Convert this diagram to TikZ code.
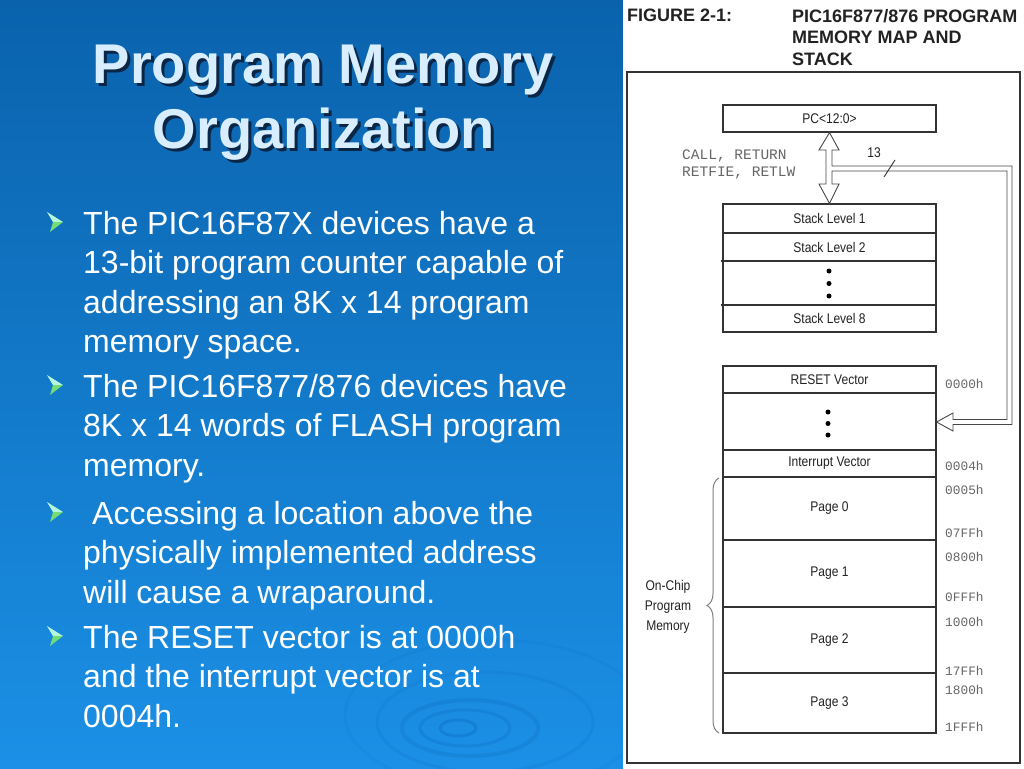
\documentclass[tikz,border=0pt]{standalone}
\usepackage{fontspec}
\setmainfont{Liberation Sans}
\newfontfamily\narrowfont[FakeStretch=0.86]{Liberation Sans}
\newfontfamily\addrfont{Liberation Mono}
\usetikzlibrary{decorations.pathreplacing,shapes.geometric}
\definecolor{bgtop}{HTML}{0A62AC}
\definecolor{bgbot}{HTML}{1B90E6}
\definecolor{titlefill}{HTML}{D8EEFF}
\definecolor{shadowc}{HTML}{0B2545}
\definecolor{linec}{HTML}{333333}
\definecolor{textc}{HTML}{222222}
\definecolor{addrc}{HTML}{666666}
\definecolor{bulletup}{HTML}{B4F7DC}
\definecolor{bulletdown}{HTML}{74DC74}
\definecolor{ripple}{HTML}{0B6CC0}
\begin{document}
\begin{tikzpicture}[x=1pt,y=-1pt,
  slidetitle/.style={font=\fontsize{56}{65}\selectfont\bfseries, text=titlefill, inner sep=0, anchor=base},
  titleshadow/.style={font=\fontsize{56}{65}\selectfont\bfseries, text=shadowc, inner sep=0, anchor=base},
  bullettext/.style={font=\fontsize{32}{39.5}\selectfont, text=white, align=left, anchor=base west, inner sep=0},
  membox/.style={draw=linec, line width=1.1pt, minimum width=213pt, inner sep=0, font=\narrowfont\fontsize{14}{15}\selectfont, text=textc},
  addr/.style={font=\addrfont\fontsize{12.8}{14}\selectfont, text=addrc, anchor=base west, inner sep=0},
  figlabel/.style={font=\narrowfont\fontsize{14}{20}\selectfont, text=textc, inner sep=0},
  headtext/.style={font=\fontsize{18}{21.5}\selectfont\bfseries, text=textc, inner sep=0, anchor=base west, align=left},
  dot/.style={fill=black, circle, inner sep=0, minimum size=5pt},
  bulletmark/.pic={
    \fill[bulletup] (-8,-10) -- (8,0) -- (-2,0) -- cycle;
    \fill[bulletdown] (-2,0) -- (8,0) -- (-5,10) -- cycle;
  }]
\useasboundingbox (0,0) rectangle (1024,768);
% background
\shade[top color=bgtop, bottom color=bgbot] (0,0) rectangle (623,768);
\begin{scope}
  \clip (0,0) rectangle (622,768);
  \draw[ripple, opacity=0.4, line width=3pt] (458,728) ellipse [x radius=18, y radius=8];
  \draw[ripple, opacity=0.3, line width=3pt] (465,728) ellipse [x radius=45, y radius=18];
  \draw[ripple, opacity=0.25, line width=4pt] (470,728) ellipse [x radius=68, y radius=28];
  \draw[ripple, opacity=0.18, line width=3pt] (485,722) ellipse [x radius=108, y radius=50];
  \draw[ripple, opacity=0.12, line width=3pt] (495,715) ellipse [x radius=150, y radius=75];
\end{scope}
% title
\node[titleshadow] (t1s) at (326,86) {Program Memory};
\node[titleshadow] (t2s) at (327,151) {Organization};
\node[slidetitle] (t1) at (323,83) {Program Memory};
\node[slidetitle] (t2) at (324,148) {Organization};
% bullets (base anchor = baseline of last line)
\pic at (55,222) {bulletmark};
\pic at (55,385) {bulletmark};
\pic at (55,512) {bulletmark};
\pic at (55,636) {bulletmark};
\node[bullettext] (b1) at (83,352.5) {The PIC16F87X devices have a\\13-bit program counter capable of\\addressing an 8K x 14 program\\memory space.};
\node[bullettext] (b2) at (83,476) {The PIC16F877/876 devices have\\8K x 14 words of FLASH program\\memory.};
\node[bullettext] (b3) at (83,603) {\hspace*{9pt}Accessing a location above the\\physically implemented address\\will cause a wraparound.};
\node[bullettext] (b4) at (83,727) {The RESET vector is at 0000h\\and the interrupt vector is at\\0004h.};
% figure panel
\fill[white] (623,0) rectangle (1024,768);
\node[headtext] (fig) at (627,22) {FIGURE 2-1:};
\node[headtext] (figt) at (792,65) {PIC16F877/876 PROGRAM\\MEMORY MAP AND\\STACK};
\draw[linec, line width=1.3pt] (627,72) rectangle (1020,763);
% PC
\node[membox, minimum height=27pt] (pc) at (829.5,118.5) {PC<12:0>};
% stack
\node[membox, minimum height=29pt] (s1) at (829.5,218.5) {Stack Level 1};
\node[membox, minimum height=28pt] (s2) at (829.5,247) {Stack Level 2};
\node[membox, minimum height=44pt] (sd) at (829.5,283) {};
\node[membox, minimum height=27pt] (s8) at (829.5,318.5) {Stack Level 8};
\draw[linec, line width=1.1pt] (720.5,261) -- (723,261) (720.5,305) -- (723,305);
\node[dot] (sd1) at (829,271) {};
\node[dot] (sd2) at (829,283.5) {};
\node[dot] (sd3) at (829,296) {};
% memory
\node[membox, minimum height=27pt] (rv) at (829.5,379.5) {RESET Vector};
\node[membox, minimum height=57pt] (md) at (829.5,421.5) {};
\node[membox, minimum height=27pt] (iv) at (829.5,463.5) {Interrupt Vector};
\node[membox, minimum height=63pt] (p0) at (829.5,508.5) {Page 0};
\node[membox, minimum height=67pt] (p1) at (829.5,573.5) {Page 1};
\node[membox, minimum height=66pt] (p2) at (829.5,640) {Page 2};
\node[membox, minimum height=60pt] (p3) at (829.5,703) {Page 3};
\node[dot] (md1) at (828,412) {};
\node[dot] (md2) at (828,423.5) {};
\node[dot] (md3) at (828,435) {};
% hollow bus arrow
\draw[fill=white, draw=linec!90, line width=0.9pt, line join=miter]
  (pc.south) -- (839,150) -- (832,150) -- (832,166) -- (1012,166) -- (1012,424.5)
  -- (953,424.5) -- (953,431) -- (md.east |- 0,422) -- (953,413) -- (953,419.5)
  -- (1007,419.5) -- (1007,171) -- (832,171) -- (832,184) -- (839,184)
  -- (s1.north) -- (819,184) -- (826,184) -- (826,150) -- (819,150) -- cycle;
\coordinate (slashA) at (884,177);
\coordinate (slashB) at (895,160);
\draw[linec, line width=0.9pt] (slashA) -- (slashB);
\node[figlabel] (n13) at (874,153) {13};
\node[font=\addrfont\fontsize{14.5}{17}\selectfont, text=addrc, inner sep=0, anchor=base west, align=left] (calls) at (682,176) {CALL, RETURN\\RETFIE, RETLW};
% addresses
\node[addr] (a0000) at (945,388) {0000h};
\node[addr] (a0004) at (945,470) {0004h};
\node[addr] (a0005) at (945,494) {0005h};
\node[addr] (a07ff) at (945,537) {07FFh};
\node[addr] (a0800) at (945,561) {0800h};
\node[addr] (a0fff) at (945,601) {0FFFh};
\node[addr] (a1000) at (945,626) {1000h};
\node[addr] (a17ff) at (945,675) {17FFh};
\node[addr] (a1800) at (945,694) {1800h};
\node[addr] (a1fff) at (945,731) {1FFFh};
% brace
\draw[gray, line width=1pt, decorate, decoration={brace, amplitude=12pt, aspect=0.5}] (719,733) -- (719,478);
\node[figlabel, align=center] (onchip) at (668,607) {On-Chip\\Program\\Memory};
\end{tikzpicture}
\end{document}
